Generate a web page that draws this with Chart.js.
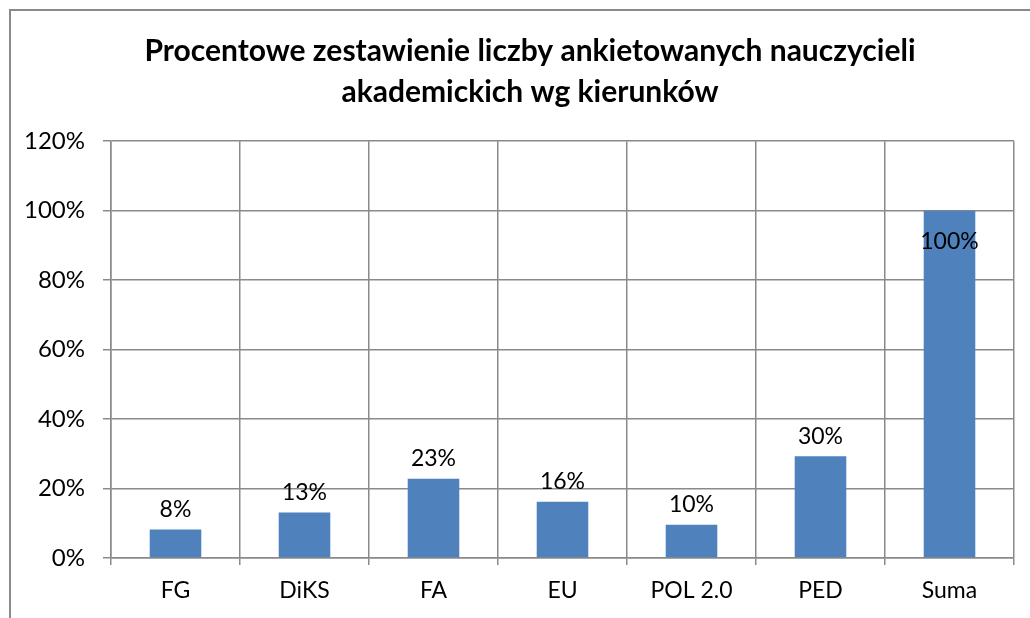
<!DOCTYPE html>
<html lang="pl">
<head>
  <meta charset="UTF-8">
  <title>Procentowe zestawienie liczby ankietowanych nauczycieli</title>
  <script src="https://cdn.jsdelivr.net/npm/chart.js"></script>
  <style>
    html, body { margin: 0; padding: 0; background: #fff; overflow: hidden; }
  </style>
</head>
<body>
  <canvas id="myChart" width="1060" height="618"></canvas>

<script>
  const kierunki = ['FG', 'DiKS', 'FA', 'EU', 'POL 2.0', 'PED', 'Suma'];
  const udzialy = [0.082, 0.131, 0.228, 0.162, 0.096, 0.293, 1.0];
  const etykiety = ['8%', '13%', '23%', '16%', '10%', '30%', '100%'];
  const tytul = ['Procentowe zestawienie liczby ankietowanych nauczycieli', 'akademickich wg kierunków'];

  const gridColor = '#8a8a8a';
  const font = 'Lato';

  // ramka wykresu (jak w Excelu, ucięta po prawej i na dole)
  const ramka = {
    id: 'ramka',
    afterDraw(chart) {
      const ctx = chart.ctx;
      ctx.save();
      ctx.strokeStyle = gridColor;
      ctx.lineWidth = 2;
      ctx.beginPath();
      ctx.moveTo(10, 640);
      ctx.lineTo(10, 10);
      ctx.lineTo(1070, 10);
      ctx.stroke();
      ctx.restore();
    }
  };

  // etykiety danych nad słupkami
  const etykietyDanych = {
    id: 'etykietyDanych',
    afterDatasetsDraw(chart) {
      const ctx = chart.ctx;
      const meta = chart.getDatasetMeta(0);
      ctx.save();
      ctx.font = '23px ' + font;
      ctx.fillStyle = '#000';
      ctx.textAlign = 'center';
      ctx.textBaseline = 'middle';
      meta.data.forEach((bar, i) => {
        const inside = udzialy[i] >= 1;
        ctx.fillText(etykiety[i], bar.x, inside ? bar.y + 31 : bar.y - 20);
      });
      ctx.restore();
    }
  };

  const ctx = document.getElementById('myChart').getContext('2d');
  const myChart = new Chart(ctx, {
    type: 'bar',
    data: {
      labels: kierunki,
      datasets: [{
        data: udzialy,
        backgroundColor: '#4f81bd',
        borderWidth: 0,
        categoryPercentage: 1,
        barPercentage: 0.4
      }]
    },
    options: {
      responsive: false,
      animation: false,
      layout: { padding: 0 },
      plugins: {
        legend: { display: false },
        tooltip: { enabled: false },
        title: {
          display: true,
          text: tytul,
          color: '#000',
          font: { family: font, size: 30, weight: 'bold', lineHeight: 1.37 },
          padding: { top: 31, bottom: 28 }
        }
      },
      scales: {
        x: {
          grid: { color: gridColor, lineWidth: 1.5, tickLength: 7, offset: true },
          border: { color: gridColor, width: 1.5 },
          ticks: { color: '#000', font: { family: font, size: 23 }, padding: 12 },
          afterFit(scale) { scale.height = 60; }
        },
        y: {
          min: 0,
          max: 1.2,
          grid: { color: gridColor, lineWidth: 1.5, tickLength: 8 },
          border: { color: gridColor, width: 1.5 },
          ticks: {
            stepSize: 0.2,
            color: '#000',
            font: { family: font, size: 24 },
            padding: 18,
            callback: v => Math.round(v * 100) + '%'
          },
          afterFit(scale) { scale.width = 111; }
        },
        // pusty margines po prawej, żeby tytuł był wyśrodkowany jak w oryginale
        yPrawa: {
          position: 'right',
          grid: { display: false },
          border: { display: false },
          ticks: { display: false },
          afterFit(scale) { scale.width = 46; }
        }
      }
    },
    plugins: [ramka, etykietyDanych]
  });
</script>
</body>
</html>
